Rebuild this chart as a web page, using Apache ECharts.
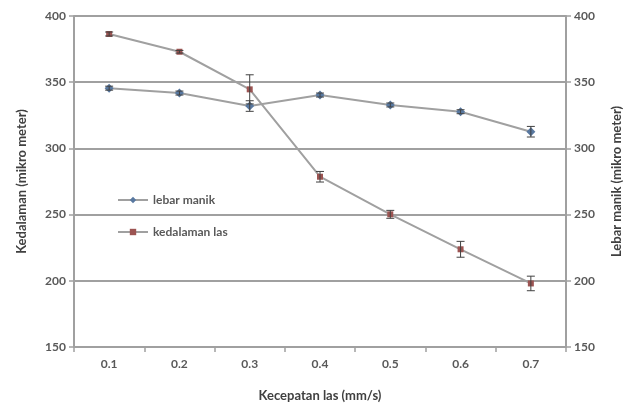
<!DOCTYPE html>
<html>
<head>
<meta charset="utf-8">
<script src="https://cdn.jsdelivr.net/npm/echarts@6/dist/echarts.min.js"></script>
<style>
  html, body { margin: 0; padding: 0; background: #fff; }
  #chart { width: 633px; height: 405px; }
</style>
</head>
<body>
<div id="chart"></div>
<script>
// data
const speeds = ["0.1", "0.2", "0.3", "0.4", "0.5", "0.6", "0.7"];
const lebarManik = [345.5, 341.8, 332, 340.3, 332.8, 327.7, 312.6];
const lebarErr = [1.5, 1.5, 4, 1.5, 1.5, 1.5, 4];
const kedalamanLas = [386.4, 373, 344.6, 278.6, 250.2, 223.8, 198];
const kedalamanErr = [1.5, 1, 11, 4, 3, 6, 5.5];
const yTicks = [150, 200, 250, 300, 350, 400];

const gray = "#a0a0a0";
const textGray = "#595959";

function errData(vals, errs) {
  return vals.map((v, i) => [i, v - errs[i], v + errs[i]]);
}

function renderErr(params, api) {
  const lo = api.coord([api.value(0), api.value(1)]);
  const hi = api.coord([api.value(0), api.value(2)]);
  const w = 4;
  const style = { stroke: "#404040", lineWidth: 1 };
  return {
    type: "group",
    children: [
      { type: "line", shape: { x1: hi[0], y1: hi[1], x2: lo[0], y2: lo[1] }, style },
      { type: "line", shape: { x1: hi[0] - w, y1: hi[1], x2: hi[0] + w, y2: hi[1] }, style },
      { type: "line", shape: { x1: lo[0] - w, y1: lo[1], x2: lo[0] + w, y2: lo[1] }, style },
    ],
  };
}

const chart = echarts.init(document.getElementById("chart"));

const yAxisBase = {
  type: "value",
  min: yTicks[0],
  max: yTicks[yTicks.length - 1],
  interval: 50,
  nameLocation: "middle",
  nameTextStyle: { fontFamily: "Lato", fontWeight: "bold", fontSize: 13, color: "#404040" },
  axisLine: { show: true, lineStyle: { color: gray, width: 2 } },
  axisTick: { show: true, length: 5, lineStyle: { color: gray, width: 1.5 } },
  axisLabel: { fontFamily: "Lato", fontWeight: "bold", fontSize: 12, color: textGray, margin: 8 },
};

const option = {
  animation: false,
  grid: { left: 74, right: 67, top: 16, bottom: 58, outerBoundsMode: "none" },
  legend: {
    orient: "vertical",
    left: 112,
    top: 189,
    itemGap: 20,
    itemWidth: 30,
    itemHeight: 8,
    textStyle: { fontFamily: "Lato", fontWeight: "bold", fontSize: 12, color: textGray },
    data: ["lebar manik", "kedalaman las"],
  },
  xAxis: {
    type: "category",
    data: speeds,
    name: "Kecepatan las (mm/s)",
    nameLocation: "middle",
    nameGap: 42,
    nameTextStyle: { fontFamily: "Lato", fontWeight: "bold", fontSize: 13, color: "#404040" },
    axisLine: { lineStyle: { color: gray, width: 2 } },
    axisTick: { show: true, length: 5, lineStyle: { color: gray, width: 1.5 } },
    axisLabel: { fontFamily: "Lato", fontWeight: "bold", fontSize: 12, color: textGray, margin: 11 },
  },
  yAxis: [
    Object.assign({}, yAxisBase, {
      position: "left",
      name: "Kedalaman (mikro meter)",
      nameGap: 46,
      splitLine: { show: true, lineStyle: { color: gray, width: 2 } },
    }),
    Object.assign({}, yAxisBase, {
      position: "right",
      name: "Lebar manik (mikro meter)",
      nameGap: 44,
      splitLine: { show: false },
    }),
  ],
  series: [
    {
      name: "lebar manik",
      type: "line",
      yAxisIndex: 1,
      data: lebarManik,
      symbol: "diamond",
      symbolSize: 9,
      itemStyle: { color: "#5878a0" },
      lineStyle: { color: gray, width: 2 },
      z: 3,
    },
    {
      name: "kedalaman las",
      type: "line",
      yAxisIndex: 0,
      data: kedalamanLas,
      symbol: "rect",
      symbolSize: 6,
      itemStyle: { color: "#9c5452" },
      lineStyle: { color: gray, width: 2 },
      z: 3,
    },
    {
      type: "custom",
      yAxisIndex: 1,
      data: errData(lebarManik, lebarErr),
      renderItem: renderErr,
      z: 4,
      silent: true,
    },
    {
      type: "custom",
      yAxisIndex: 0,
      data: errData(kedalamanLas, kedalamanErr),
      renderItem: renderErr,
      z: 4,
      silent: true,
    },
  ],
};

chart.setOption(option);
</script>
</body>
</html>
